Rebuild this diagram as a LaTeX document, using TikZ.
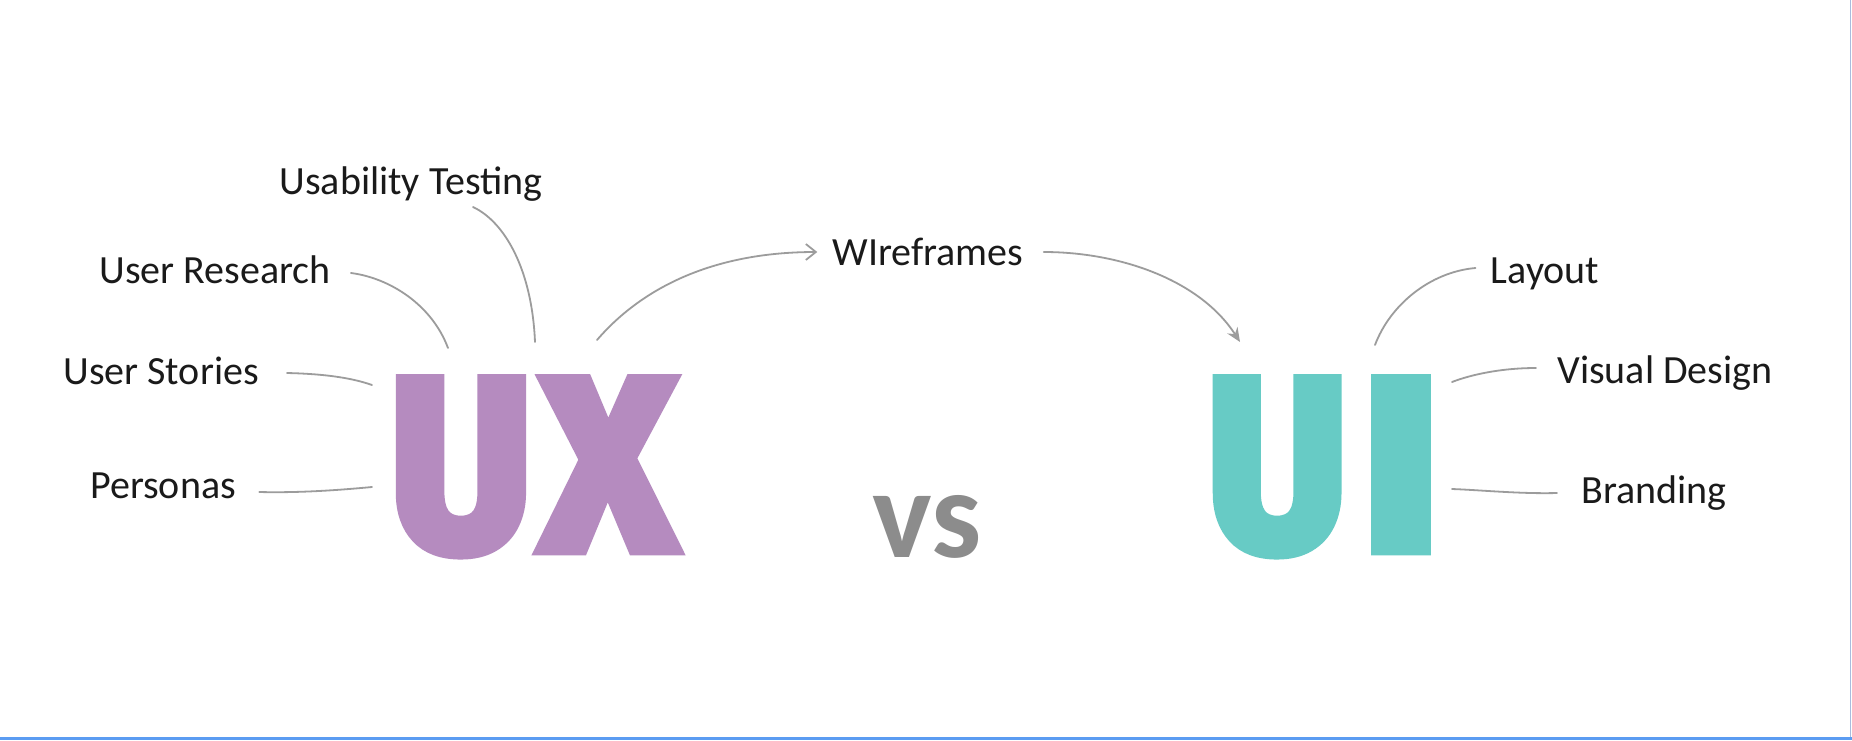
\documentclass[tikz,border=0pt]{standalone}
\usepackage{fontspec}
\setmainfont{Carlito}
\newfontfamily\heavy{Fira Sans}[FakeBold=6]
\usetikzlibrary{arrows.meta}
\definecolor{uxpurple}{HTML}{B58BBF}
\definecolor{uiteal}{HTML}{67CBC5}
\definecolor{vsgray}{HTML}{8C8C8C}
\definecolor{labeltext}{HTML}{1A1A1A}
\definecolor{conngray}{HTML}{9C9C9C}
\definecolor{borderblue}{HTML}{5B9CF2}
\definecolor{borderside}{HTML}{A9BCDD}
\begin{document}
\begin{tikzpicture}[x=0.5pt,y=-0.5pt,
  lbl/.style={font=\fontsize{20pt}{24pt}\selectfont, text=labeltext, inner sep=0pt, anchor=base},
  conn/.style={draw=conngray, line width=0.9pt, line cap=round},
  big/.style={inner sep=0pt, anchor=north west}]
\useasboundingbox (0,0) rectangle (1852,740);
\fill[white] (0,0) rectangle (1852,740);
\draw[borderside, line width=0.6pt] (1850.5,0) -- (1850.5,737);
\fill[borderblue] (0,737) rectangle (1852,740);

% labels
\node[lbl] (ut) at (411,194) {Usability Testing};
\node[lbl] (ur) at (215,283) {User Research};
\node[lbl] (us) at (161,384) {User Stories};
\node[lbl] (pe) at (163,498) {Personas};
\node[lbl] (wf) at (928,265) {WIreframes};
\node[lbl] (la) at (1545,283) {Layout};
\node[lbl] (vd) at (1665,383) {Visual Design};
\node[lbl] (br) at (1654,503) {Branding};

% big letters
\node[big, text=uxpurple] (ux) at (390,381)
  {\heavy\bfseries\resizebox{70.5pt}{83.4pt}{U}\kern6pt\resizebox{65pt}{83.4pt}{X}};
\node[big, text=uiteal] (ui) at (1207,381)
  {\heavy\bfseries\resizebox{69.7pt}{83.4pt}{U}\kern7.5pt\resizebox{39pt}{83.4pt}{I}};
\node[inner sep=0pt, anchor=base, text=vsgray, font=\fontsize{63pt}{70pt}\selectfont\bfseries] (vs) at (927,557) {vs};

% connector ends near the letters
\coordinate (uxT) at (535,342);
\coordinate (uxR) at (448,348);
\coordinate (uxS) at (372,385);
\coordinate (uxP) at (372,487);
\coordinate (uxW) at (597,340);
\coordinate (uiW) at (1240,342);
\coordinate (uiL) at (1375,345);
\coordinate (uiV) at (1452,382);
\coordinate (uiB) at (1452,489);

% connectors
\draw[conn] ([shift={(62,13)}]ut.base) .. controls (505,222) and (532,270) .. (uxT);
\draw[conn] ([shift={(20,-10)}]ur.base east) .. controls (390,278) and (432,305) .. (uxR);
\draw[conn] ([shift={(28,-11)}]us.base east) .. controls (330,374) and (355,379) .. (uxS);
\draw[conn] ([shift={(23,-6)}]pe.base east) .. controls (300,493) and (340,490) .. (uxP);
\draw[conn, -{Straight Barb[length=5pt,width=8pt]}] (uxW) .. controls (640,290) and (710,252) .. ([shift={(-15,-13)}]wf.base west);
\draw[conn, -{Stealth[length=7pt,width=6pt]}] ([shift={(20,-13)}]wf.base east) .. controls (1120,252) and (1200,280) .. (uiW);
\draw[conn] ([shift={(-15,-15)}]la.base west) .. controls (1430,272) and (1390,305) .. (uiL);
\draw[conn] ([shift={(-21,-15)}]vd.base west) .. controls (1500,368) and (1470,375) .. (uiV);
\draw[conn] ([shift={(-24,-10)}]br.base west) .. controls (1520,494) and (1480,490) .. (uiB);
\end{tikzpicture}
\end{document}
